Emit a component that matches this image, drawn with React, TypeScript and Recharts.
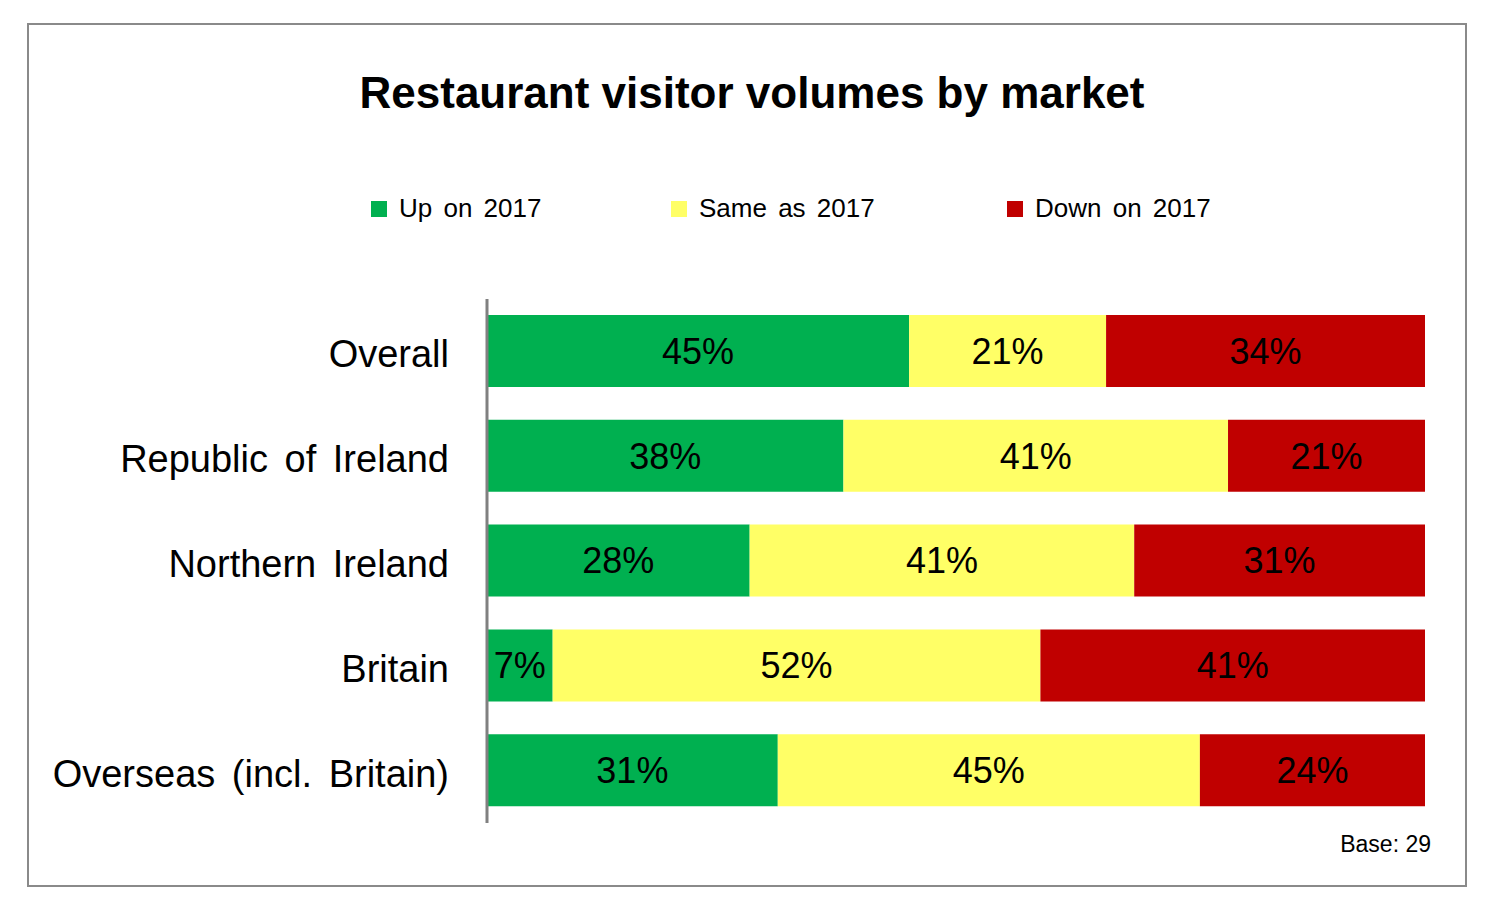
import React from "react";
import { BarChart, Bar, XAxis, YAxis, LabelList, Legend } from "recharts";

const categories = ["Overall", "Republic of Ireland", "Northern Ireland", "Britain", "Overseas (incl. Britain)"];
const upValues = [45, 38, 28, 7, 31];
const sameValues = [21, 41, 41, 52, 45];
const downValues = [34, 21, 31, 41, 24];
const seriesNames = ["Up on 2017", "Same as 2017", "Down on 2017"];
const seriesColors = ["#00B050", "#FFFF66", "#C00000"];

const data = categories.map((c, i) => ({
  name: c,
  up: upValues[i],
  same: sameValues[i],
  down: downValues[i],
}));

const FONT = "'Liberation Sans', Arial, sans-serif";

const YTick = (props: any) => {
  const { x, y, payload } = props;
  return (
    <text x={x - 38} y={y} dy={16} textAnchor="end" fontSize={38} fill="#000" fontFamily={FONT} wordSpacing={6}>
      {payload.value}
    </text>
  );
};

const legendX = [371, 671, 1007];

const LegendContent = () => (
  <div style={{ position: "relative", width: 1495, height: 40 }}>
    {seriesNames.map((n, i) => (
      <div key={n} style={{ position: "absolute", left: legendX[i], top: 0, display: "flex", alignItems: "center" }}>
        <div style={{ width: 16, height: 16, background: seriesColors[i], marginRight: 12 }} />
        <span style={{ fontSize: 26, fontFamily: FONT, color: "#000", wordSpacing: 4, whiteSpace: "nowrap" }}>{n}</span>
      </div>
    ))}
  </div>
);

const fmt = (v: any) => `${v}%`;

export default function App() {
  return (
    <div style={{ position: "absolute", left: 0, top: 0, width: 1495, height: 910, background: "#fff" }}>
      <div
        style={{
          position: "absolute",
          left: 27,
          top: 23,
          width: 1436,
          height: 860,
          border: "2px solid #8a8a8a",
        }}
      />
      <div style={{ position: "absolute", left: 0, top: 0 }}>
        <BarChart
          width={1495}
          height={910}
          data={data}
          layout="vertical"
          margin={{ top: 299, right: 70, bottom: 87, left: 0 }}
          barCategoryGap={0}
        >
          <XAxis type="number" domain={[0, 100]} hide />
          <YAxis
            type="category"
            dataKey="name"
            width={487}
            tickLine={false}
            tickSize={0}
            tickMargin={0}
            axisLine={{ stroke: "#808080", strokeWidth: 3 }}
            tick={<YTick />}
            interval={0}
          />
          <Legend
            layout="horizontal"
            verticalAlign="middle"
            align="center"
            content={<LegendContent />}
            wrapperStyle={{ position: "absolute", top: 193, left: 0, width: 1495 }}
          />
          <Bar dataKey="up" name={seriesNames[0]} stackId="a" fill={seriesColors[0]} barSize={72} isAnimationActive={false}>
            <LabelList dataKey="up" position="center" formatter={fmt} fill="#000" fontSize={36} fontFamily={FONT} />
          </Bar>
          <Bar dataKey="same" name={seriesNames[1]} stackId="a" fill={seriesColors[1]} barSize={72} isAnimationActive={false}>
            <LabelList dataKey="same" position="center" formatter={fmt} fill="#000" fontSize={36} fontFamily={FONT} />
          </Bar>
          <Bar dataKey="down" name={seriesNames[2]} stackId="a" fill={seriesColors[2]} barSize={72} isAnimationActive={false}>
            <LabelList dataKey="down" position="center" formatter={fmt} fill="#000" fontSize={36} fontFamily={FONT} />
          </Bar>
        </BarChart>
      </div>
      <svg
        width={1495}
        height={910}
        style={{ position: "absolute", left: 0, top: 0, pointerEvents: "none" }}
      >
        <text x={752} y={108} textAnchor="middle" fontSize={44} fontWeight="bold" fontFamily={FONT} fill="#000">
          Restaurant visitor volumes by market
        </text>
        <text x={1431} y={852} textAnchor="end" fontSize={23} fontFamily={FONT} fill="#000">
          Base: 29
        </text>
      </svg>
    </div>
  );
}
